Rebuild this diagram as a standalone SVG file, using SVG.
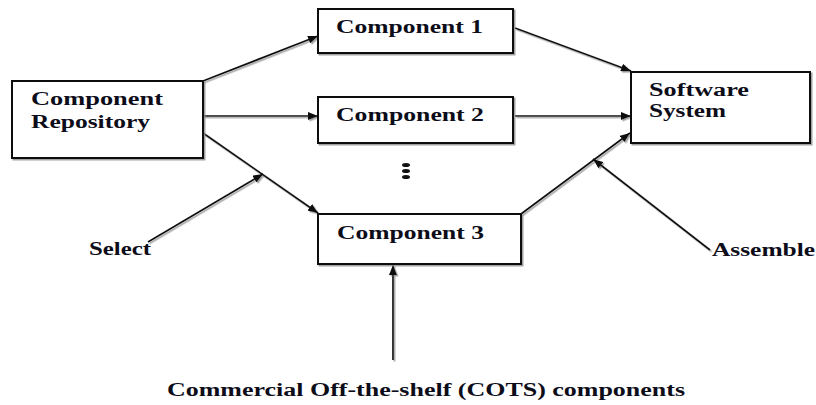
<svg xmlns="http://www.w3.org/2000/svg" width="816" height="405" viewBox="0 0 816 405">
  <style>
    .box { fill: #ffffff; stroke: #111111; stroke-width: 2; }
    .lbl { font-family: "Liberation Serif", "Times New Roman", serif; font-weight: bold; font-size: 18px; fill: #0d0d1a; }
    .con { fill: none; stroke: #111111; stroke-width: 1.7; marker-end: url(#arr); }
  </style>
  <defs>
    <marker id="arr" viewBox="0 0 10 8" refX="10" refY="4" markerWidth="10" markerHeight="8" markerUnits="userSpaceOnUse" orient="auto">
      <path d="M0,0 L10,4 L0,8 Z" fill="#111111"/>
    </marker>
    <filter id="sh" x="-10%" y="-10%" width="130%" height="130%">
      <feDropShadow dx="1.5" dy="1.5" stdDeviation="0.6" flood-color="#8a8a8a" flood-opacity="0.8"/>
    </filter>
  </defs>

  <g id="connectors" filter="url(#sh)">
    <path class="con" d="M203,81 L318,36"/>
    <path class="con" d="M203,116 L318,116"/>
    <path class="con" d="M203,133 L318,213"/>
    <path class="con" d="M148,242 L263,174"/>
    <path class="con" d="M515,28 L631,71"/>
    <path class="con" d="M515,116 L631,116"/>
    <path class="con" d="M521,214 L630,133"/>
    <path class="con" d="M710,250 L593,159"/>
    <path class="con" d="M393,360 L393,265"/>
  </g>

  <g id="repository">
    <rect class="box" x="12" y="81" width="191" height="77" filter="url(#sh)"/>
    <text class="lbl" x="31" y="105" textLength="132" lengthAdjust="spacingAndGlyphs">Component</text>
    <text class="lbl" x="31" y="128" textLength="119" lengthAdjust="spacingAndGlyphs">Repository</text>
  </g>

  <g id="component1">
    <rect class="box" x="318" y="9" width="195" height="44" filter="url(#sh)"/>
    <text class="lbl" x="336" y="33" textLength="147" lengthAdjust="spacingAndGlyphs">Component 1</text>
  </g>

  <g id="component2">
    <rect class="box" x="318" y="97" width="195" height="46" filter="url(#sh)"/>
    <text class="lbl" x="336" y="121" textLength="148" lengthAdjust="spacingAndGlyphs">Component 2</text>
  </g>

  <g id="ellipsis">
    <ellipse cx="406" cy="165" rx="4" ry="2" fill="#111111"/>
    <ellipse cx="406" cy="171" rx="4" ry="2" fill="#111111"/>
    <ellipse cx="406" cy="177" rx="4" ry="2" fill="#111111"/>
  </g>

  <g id="component3">
    <rect class="box" x="318" y="214" width="203" height="50" filter="url(#sh)"/>
    <text class="lbl" x="337" y="239" textLength="147" lengthAdjust="spacingAndGlyphs">Component 3</text>
  </g>

  <g id="software">
    <rect class="box" x="631" y="72" width="179" height="71" filter="url(#sh)"/>
    <text class="lbl" x="649" y="96" textLength="100" lengthAdjust="spacingAndGlyphs">Software</text>
    <text class="lbl" x="649" y="117" textLength="77" lengthAdjust="spacingAndGlyphs">System</text>
  </g>

  <g id="select">
    <text class="lbl" x="89" y="255" textLength="62" lengthAdjust="spacingAndGlyphs">Select</text>
  </g>

  <g id="assemble">
    <text class="lbl" x="712" y="256" textLength="103" lengthAdjust="spacingAndGlyphs">Assemble</text>
  </g>

  <g id="cots">
    <text class="lbl" x="167" y="396" textLength="518" lengthAdjust="spacingAndGlyphs">Commercial Off-the-shelf (COTS) components</text>
  </g>
</svg>
